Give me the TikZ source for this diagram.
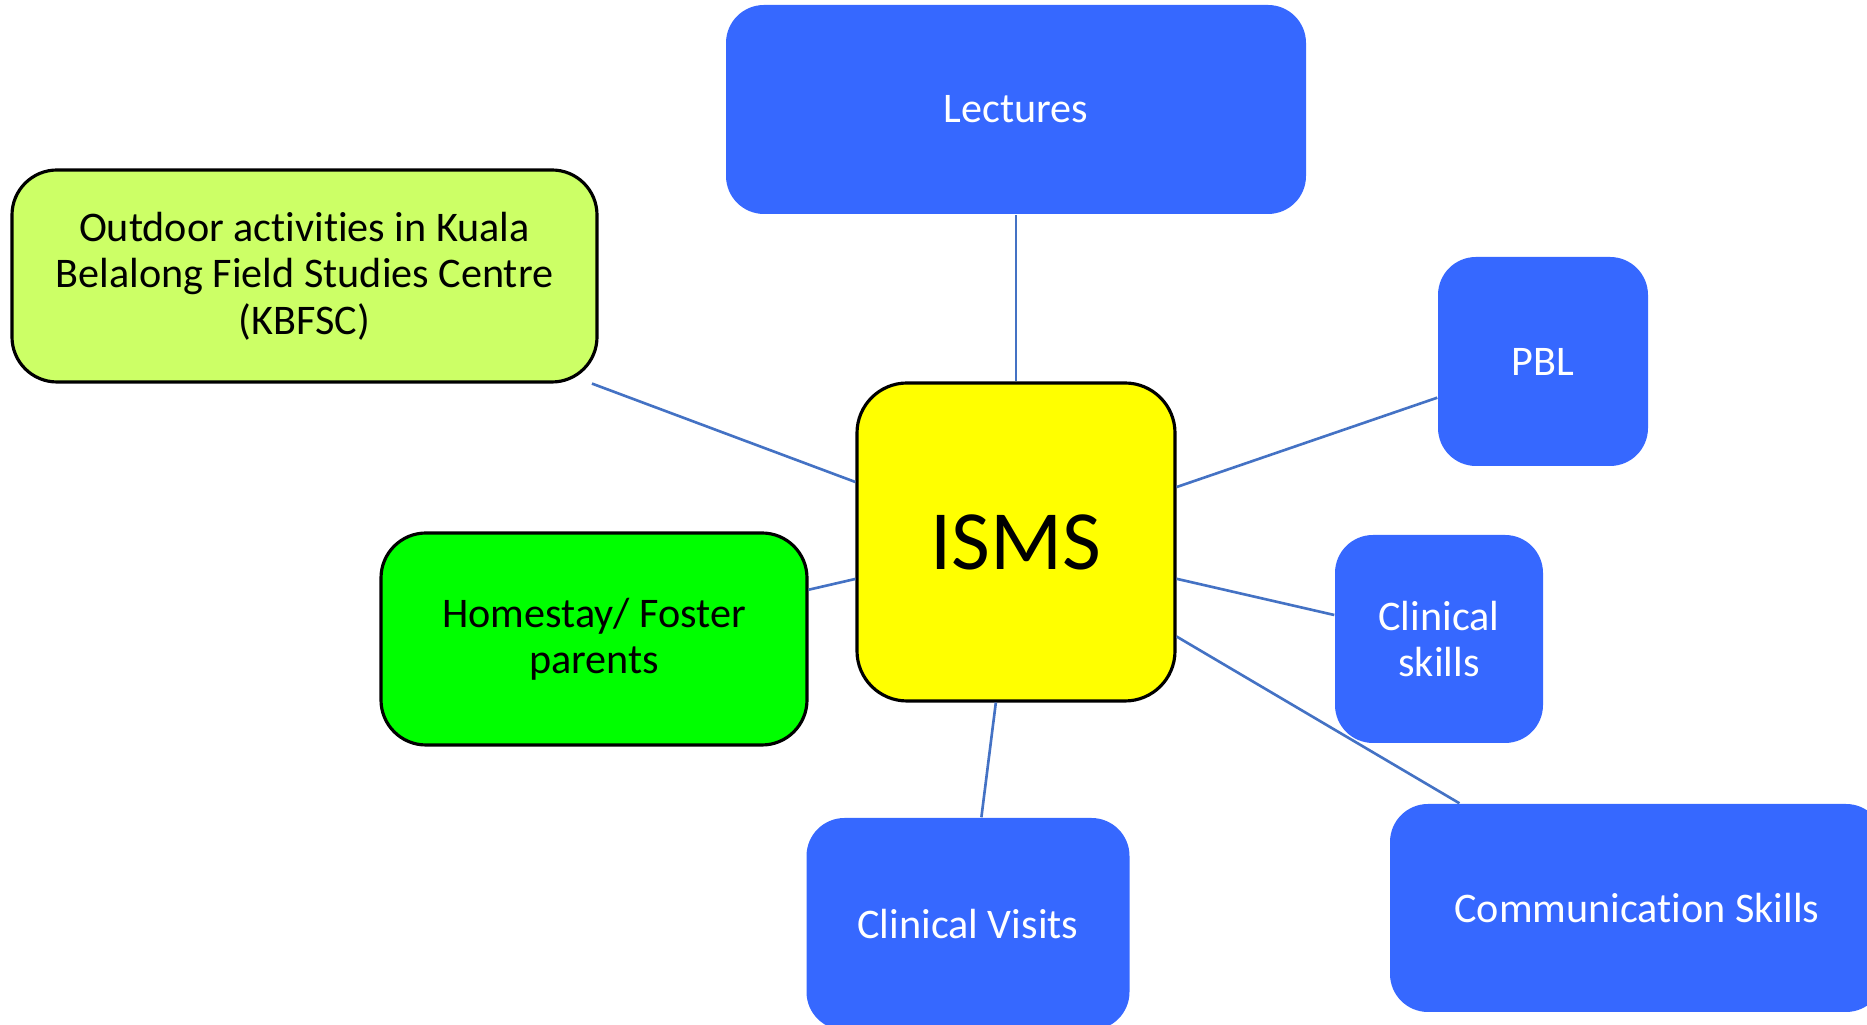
\documentclass[tikz,border=0pt]{standalone}
\usepackage{fontspec}
\setmainfont{Carlito}[RawFeature={-liga;-clig;-calt;-dlig}]
\usepackage{xcolor}
\usepackage{tikz}
\definecolor{boxblue}{RGB}{54,104,255}
\definecolor{limegreen}{RGB}{204,255,102}
\definecolor{brightgreen}{RGB}{0,255,0}
\definecolor{hubyellow}{RGB}{255,255,0}
\definecolor{linkblue}{RGB}{68,114,196}

\begin{document}
\begin{tikzpicture}[
    bluebox/.style={rectangle,rounded corners=0.38cm,fill=boxblue,text=white,inner sep=0pt,align=center,font=\fontsize{12}{13.2}\selectfont},
    greenbox/.style={rectangle,rounded corners=0.45cm,draw=black,line width=0.9pt,text=black,inner sep=0pt,align=center,font=\fontsize{12}{13.2}\selectfont},
    hub/.style={rectangle,rounded corners=0.5cm,draw=black,line width=0.9pt,fill=hubyellow,inner sep=0pt,font=\fontsize{24}{28}\selectfont},
    link/.style={draw=linkblue,line width=0.75pt}
]
            \useasboundingbox (0,0) rectangle (18.67,10.25);
            \clip (0,0) rectangle (18.67,10.25);

            %%% CENTRE %%%
            \node[hub,minimum width=3.18cm,minimum height=3.18cm] (isms) at (10.16,4.83) {ISMS};

            %%% ACTIVITIES %%%
            \node[bluebox,minimum width=5.8cm,minimum height=2.09cm] (lectures) at (10.16,9.155) {Lectures};
            \node[bluebox,minimum width=2.1cm,minimum height=2.09cm] (pbl) at (15.43,6.635) {PBL};
            \node[bluebox,minimum width=2.08cm,minimum height=2.08cm] (clinskills) at (14.39,3.86) {Clinical\\skills};
            \node[bluebox,minimum width=3.23cm,minimum height=2.12cm] (clinvisits) at (9.68,1.01) {Clinical Visits};
            \node[bluebox,minimum width=4.94cm,minimum height=2.08cm] (comm) at (16.37,1.17) {Communication Skills};
            \node[greenbox,fill=limegreen,minimum width=5.85cm,minimum height=2.12cm] (outdoor) at (3.045,7.49) {Outdoor activities in Kuala\\Belalong Field Studies Centre\\(KBFSC)};
            \node[greenbox,fill=brightgreen,minimum width=4.26cm,minimum height=2.12cm] (homestay) at (5.94,3.86) {Homestay/ Foster\\parents};

            %%% LINKS %%%
            \draw[link] (isms)--(lectures);
            \draw[link] (isms)--(pbl);
            \draw[link] (isms)--(clinskills);
            \draw[link] (isms)--(comm);
            \draw[link] (isms)--(clinvisits);
            \draw[link] (isms)--(homestay);
            \draw[link] (isms)--(outdoor);
\end{tikzpicture}
\end{document}
